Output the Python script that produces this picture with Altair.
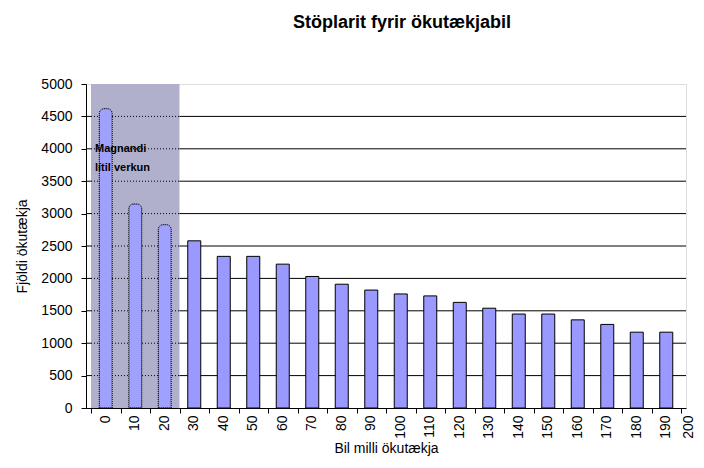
import altair as alt
import pandas as pd

# ---- data ----
categories = [0, 10, 20, 30, 40, 50, 60, 70, 80, 90, 100, 110, 120, 130, 140, 150, 160, 170, 180, 190]
counts = [4620, 3150, 2830, 2580, 2340, 2340, 2220, 2030, 1910, 1820, 1760, 1730,
          1630, 1540, 1450, 1450, 1360, 1290, 1170, 1170]
shaded_until = 20          # categories 0..20 lie in the shaded zone
shaded_edges = [-5, 25]    # band edges of the shaded zone
grid_values = [500, 1000, 1500, 2000, 2500, 3000, 3500, 4000, 4500]
y_ticks = [0, 500, 1000, 1500, 2000, 2500, 3000, 3500, 4000, 4500, 5000]
x_tick_edges = [-5, 5, 15, 25, 35, 45, 55, 65, 75, 85, 95, 105, 115, 125, 135, 145,
                155, 165, 175, 185, 195]
note_lines = ["Magnandi", "lítil verkun"]
note_y = [4000, 3710]

title = "Stöplarit fyrir ökutækjabil"
x_title = "Bil milli ökutækja"
y_title = "Fjöldi ökutækja"

FONT = "Liberation Sans"

df = pd.DataFrame({"bil": categories, "fjoldi": counts})
df_shaded = df[df.bil <= shaded_until]
df_plain = df[df.bil > shaded_until]
df_zone = pd.DataFrame({"bil": [shaded_edges[0]], "x1": [shaded_edges[1]], "fjoldi": [0], "y1": [5000]})
df_grid = pd.DataFrame({"fjoldi": grid_values, "bil": shaded_edges[0], "x1": shaded_edges[1]})
df_note = pd.DataFrame({"t": note_lines, "fjoldi": note_y, "bil": shaded_edges[0]})

xscale = alt.Scale(domain=[-5, 195], nice=False, zero=False)
yscale = alt.Scale(domain=[0, 5000], nice=False)

x_axis = alt.Axis(
    values=x_tick_edges,
    labelExpr="datum.value + 5",
    labelAngle=-90,
    labelOffset={"condition": {"test": "datum.value >= 195", "value": 7}, "value": 14},
    labelPadding=2,
    labelFont=FONT, labelFontSize=14, labelColor="black",
    tickSize=5, tickColor="black", domainColor="black", grid=False,
    title=x_title, titleFont=FONT, titleFontSize=14, titleFontWeight="normal",
    titleColor="black", titlePadding=3, labelOverlap=False, labelFlush=False,
)
y_axis = alt.Axis(
    values=y_ticks, format="d",
    labelPadding=9,
    labelFont=FONT, labelFontSize=14, labelColor="black",
    tickSize=5, tickColor="black", domainColor="black", grid=False,
    title=y_title, titleFont=FONT, titleFontSize=14, titleFontWeight="normal",
    titleColor="black", titlePadding=11, labelOverlap=False,
)

X = lambda: alt.X("bil:Q", scale=xscale, axis=x_axis)
Y = lambda: alt.Y("fjoldi:Q", scale=yscale, axis=y_axis)

grid = alt.Chart(df_grid).mark_rule(color="black", strokeWidth=1).encode(y=Y())
zone = alt.Chart(df_zone).mark_rect(fill="#b0b0cc").encode(
    x=X(), x2="x1:Q", y=Y(), y2="y1:Q",
)
zone_grid = alt.Chart(df_grid).mark_rule(color="black", strokeWidth=1, strokeDash=[1, 2]).encode(
    x=X(), x2="x1:Q", y=Y(),
)
bars_shaded = alt.Chart(df_shaded).mark_bar(
    size=13, fill="#a0a0ff", stroke="black", strokeWidth=1, strokeDash=[1, 1],
    cornerRadiusTopLeft=5, cornerRadiusTopRight=5,
).encode(x=X(), y=Y())
bars = alt.Chart(df_plain).mark_bar(
    size=13, fill="#9999ff", stroke="black", strokeWidth=1,
).encode(x=X(), y=Y())
note = alt.Chart(df_note).mark_text(
    align="left", baseline="middle", dx=4, font=FONT, fontSize=11, fontWeight="bold", color="black",
).encode(x=X(), y=Y(), text="t:N")

chart = alt.layer(grid, zone, zone_grid, bars_shaded, bars, note).properties(
    width=600, height=324,
    title=alt.TitleParams(title, font=FONT, fontSize=18, fontWeight="bold", color="black",
                          anchor="middle", frame="group", dx=16, offset=45),
    autosize=alt.AutoSizeParams(type="none"),
    padding={"left": 78, "top": 76, "right": 10, "bottom": 52},
).configure_view(stroke="#808080", strokeWidth=2).configure(background="white")

chart.save("out.html", embed_options={"renderer": "svg", "actions": False})
